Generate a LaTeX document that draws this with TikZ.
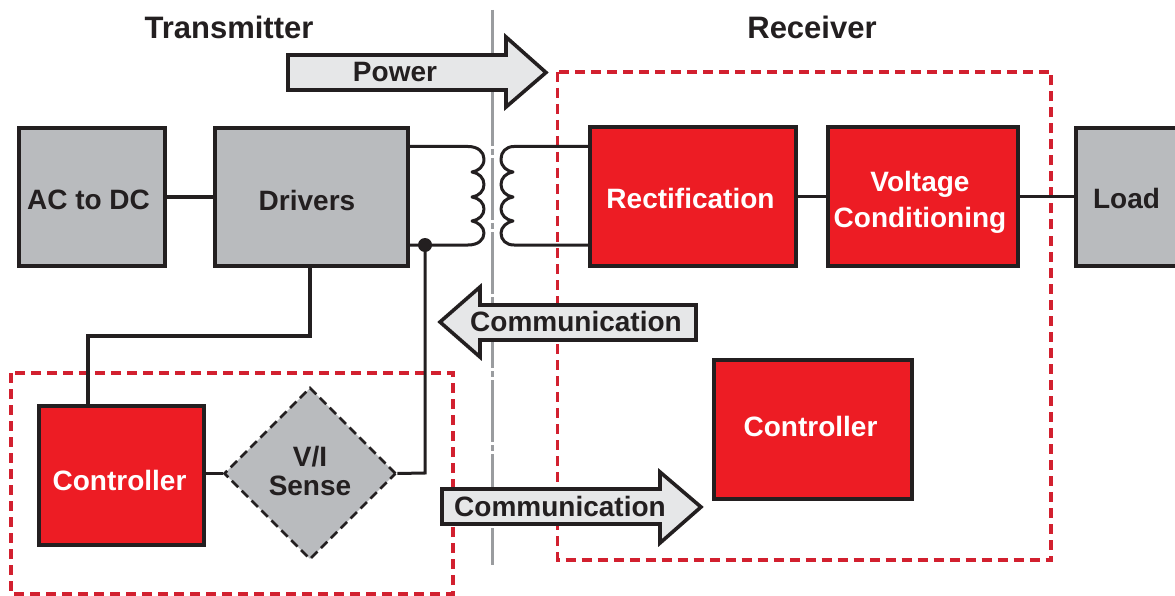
\documentclass[tikz,border=0pt]{standalone}
\usepackage{fontspec}
\setmainfont{Liberation Sans}
\usetikzlibrary{shapes.geometric}
\definecolor{redfill}{HTML}{ED1C24}
\definecolor{grayfill}{HTML}{B9BBBE}
\definecolor{ink}{HTML}{231F20}
\definecolor{arrowfill}{HTML}{E6E7E8}
\definecolor{dashred}{HTML}{D2202F}
\definecolor{midline}{HTML}{9A9C9F}
\tikzset{
  x=1pt,y=-1pt,
  lbl/.style={font=\fontsize{28}{36}\selectfont\bfseries,text=ink,align=center,inner sep=0pt},
  headlbl/.style={font=\fontsize{31}{36}\selectfont\bfseries,text=ink,inner sep=0pt},
  whitelbl/.style={font=\fontsize{28}{36}\selectfont\bfseries,text=white,align=center,inner sep=0pt},
  boxbase/.style={draw=ink,line width=4pt,inner sep=0pt},
  graybox/.style={boxbase,fill=grayfill},
  redbox/.style={boxbase,fill=redfill},
  wire/.style={draw=ink,line width=3.6pt},
  thinwire/.style={draw=ink,line width=3pt,line join=round},
  redzone/.style={draw=dashred,line width=3.4pt,dash pattern=on 10pt off 6pt},
  bigarrow/.style={draw=ink,line width=3.6pt,fill=arrowfill,miter limit=6},
  sensebox/.style={diamond,draw=ink,line width=2.6pt,dash pattern=on 9pt off 5pt,fill=grayfill,aspect=1,inner sep=0pt,minimum width=172pt,minimum height=172pt},
}
\begin{document}
\begin{tikzpicture}
\useasboundingbox (0,0) rectangle (1175,596);
\fill[white] (0,0) rectangle (1175,596);
% centre line
\draw[midline,line width=3pt,dash pattern=on 62pt off 3pt on 6pt off 3pt] (492,10) -- (492,565);
% red zones
\draw[redzone] (557.5,72) rectangle (1051,560);
\draw[redzone] (11,373) rectangle (453,594);
% boxes
\node[graybox,minimum width=146pt,minimum height=137pt] (acdc) at (91.5,197) {};
\node[graybox,minimum width=193pt,minimum height=137pt] (drv) at (311,197) {};
\node[redbox,minimum width=206pt,minimum height=138pt] (rect) at (692.5,196.5) {};
\node[redbox,minimum width=190pt,minimum height=138pt] (volt) at (922.5,196.5) {};
\node[graybox,minimum width=102pt,minimum height=137pt] (load) at (1126.5,197) {};
\node[redbox,minimum width=198pt,minimum height=139pt] (ctlr) at (812.5,429) {};
\node[redbox,minimum width=165pt,minimum height=139pt] (ctll) at (121,475) {};
\node[sensebox] (sense) at (310,473.5) {};
% box texts
\node[lbl] (acdct) at (88.5,200) {AC to DC};
\node[lbl] (drvt) at (307,200) {Drivers};
\node[whitelbl] (rectt) at (690.5,198) {Rectification};
\node[whitelbl] (voltt) at (920,202) {Voltage\\Conditioning};
\node[lbl] (loadt) at (1126.5,198) {Load};
\node[whitelbl] (ctlrt) at (810.5,426) {Controller};
\node[whitelbl] (ctllt) at (119.5,480) {Controller};
\node[lbl,font=\fontsize{28}{29}\selectfont\bfseries] (senset) at (310,471) {V/I\\Sense};
% connectors
\draw[wire] (acdc.east) -- (drv.west);
\draw[wire] (rect.east) -- (rect.east -| volt.west);
\draw[wire] (volt.east) -- (volt.east -| load.west);
\coordinate (drvdown) at (310,267);
\coordinate (ctlup) at (88,404);
\draw[wire,line join=miter] (drvdown) -- (310,336) -- (88,336) -- (ctlup);
\draw[wire] (ctll.east |- sense.west) -- (sense.west);
% transformer
\coordinate (pa) at (409,146.5);
\coordinate (pb) at (409,245);
\coordinate (sa) at (588,146.5);
\coordinate (sb) at (588,245);
\draw[thinwire] (pa) -- (468,146.5)
  .. controls (478,146.5) and (484,152) .. (484,159)
  .. controls (484,167) and (478,171) .. (472,172)
  .. controls (479,173) and (484,178) .. (484,184.5)
  .. controls (484,191) and (479,196) .. (472,197)
  .. controls (479,198) and (484,203) .. (484,209)
  .. controls (484,215) and (479,220) .. (472,221)
  .. controls (478,222) and (484,227) .. (484,233)
  .. controls (484,240) and (478,245) .. (468,245) -- (pb);
\draw[thinwire] (sa) -- (514,146.5)
  .. controls (506,146.5) and (501,152) .. (501,159)
  .. controls (501,167) and (507,171) .. (513,172)
  .. controls (506,173) and (501,178) .. (501,184.5)
  .. controls (501,191) and (506,196) .. (513,197)
  .. controls (506,198) and (501,203) .. (501,209)
  .. controls (501,215) and (506,220) .. (513,221)
  .. controls (507,222) and (501,227) .. (501,233)
  .. controls (501,240) and (506,245) .. (514,245) -- (sb);
\node[circle,fill=ink,minimum size=14pt,inner sep=0pt] (dot) at (425,245) {};
\draw[thinwire,line join=miter] (dot.center) -- (425,473) -- (sense.east);
% big arrows
\draw[bigarrow] (288,55) -- (506,55) -- (506,37) -- (546,72.5) -- (506,107) -- (506,90) -- (288,90) -- cycle;
\draw[bigarrow] (696,305) -- (480,305) -- (480,287) -- (440,322) -- (480,357) -- (480,340) -- (696,340) -- cycle;
\draw[bigarrow] (442,489) -- (660,489) -- (660,472) -- (701,507) -- (660,543) -- (660,524) -- (442,524) -- cycle;
% texts
\node[lbl] (tpower) at (395,72) {Power};
\node[lbl] (tcom1) at (576,321) {Communication};
\node[lbl] (tcom2) at (560,506) {Communication};
\node[headlbl] (ttx) at (229,27) {Transmitter};
\node[headlbl] (trx) at (812,27) {Receiver};
\end{tikzpicture}
\end{document}
